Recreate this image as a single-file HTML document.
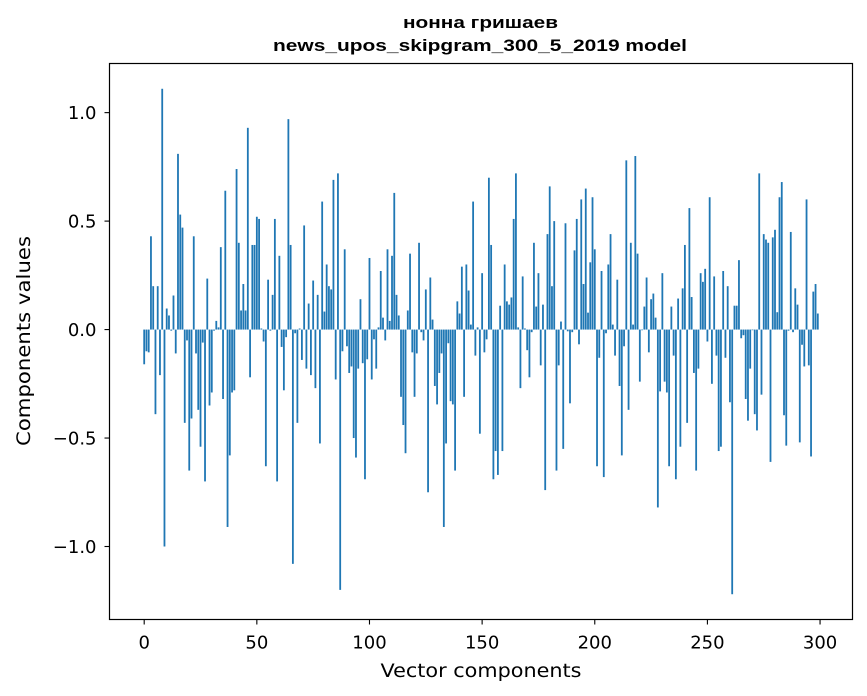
<!DOCTYPE html>
<html><head><meta charset="utf-8"><style>
html,body{margin:0;padding:0;background:#fff;}
svg{display:block;font-family:"DejaVu Sans","Liberation Sans",sans-serif;}
</style></head><body>
<svg id="chart" width="867" height="696" viewBox="0 0 867 696">
<text x="480.5" y="28" text-anchor="middle" font-size="17" font-weight="bold" font-family="Liberation Sans, sans-serif" textLength="155" lengthAdjust="spacingAndGlyphs">нонна гришаев</text>
<text x="480" y="51" text-anchor="middle" font-size="17" font-weight="bold" font-family="Liberation Sans, sans-serif" textLength="414" lengthAdjust="spacingAndGlyphs">news_upos_skipgram_300_5_2019 model</text>
<g id="bars"></g>
<g id="yticks"></g>
<g id="xticks"></g>
<rect x="109.5" y="63.5" width="743" height="556" fill="none" stroke="#000" stroke-width="1.2"/>
<text x="481" y="677" text-anchor="middle" font-size="19" textLength="201" lengthAdjust="spacingAndGlyphs">Vector components</text>
<text transform="translate(30,341) rotate(-90)" text-anchor="middle" font-size="19" textLength="210" lengthAdjust="spacingAndGlyphs">Components values</text>
</svg>
<script>
const values = [
-0.16,-0.10,-0.105,0.43,0.20,-0.39,0.20,-0.21,1.11,-1.0,
0.097,0.065,-0.005,0.157,-0.11,0.81,0.53,0.47,-0.43,-0.05,
-0.65,-0.41,0.43,-0.11,-0.37,-0.54,-0.06,-0.70,0.235,-0.35,
-0.29,-0.005,0.04,0.01,0.38,-0.32,0.64,-0.91,-0.58,-0.29,
-0.28,0.74,0.40,0.088,0.21,0.088,0.93,-0.22,0.39,0.39,
0.52,0.51,0.005,-0.055,-0.63,0.23,-0.005,0.16,0.51,-0.70,
0.34,-0.08,-0.28,-0.035,0.97,0.39,-1.08,-0.017,-0.43,0.005,
-0.14,0.48,-0.18,0.12,-0.21,0.226,-0.27,0.16,-0.525,0.59,
0.083,0.30,0.20,0.185,0.69,-0.23,0.72,-1.2,-0.10,0.37,
-0.077,-0.20,-0.17,-0.50,-0.59,-0.18,0.14,-0.155,-0.69,-0.137,
0.33,-0.23,-0.045,-0.18,0.01,0.27,0.055,-0.05,0.37,0.04,
0.34,0.63,0.16,0.065,-0.31,-0.44,-0.57,0.088,0.35,-0.105,
-0.31,-0.11,0.40,-0.012,-0.05,0.185,-0.75,0.24,0.046,-0.26,
-0.345,-0.20,-0.11,-0.91,-0.525,-0.063,-0.33,-0.345,-0.65,0.13,
0.074,0.29,-0.31,0.30,0.18,0.023,0.59,-0.12,0.01,-0.48,
0.26,-0.105,-0.045,0.70,0.39,-0.69,-0.56,-0.67,0.11,-0.56,
0.30,0.13,0.115,0.148,0.51,0.72,0.01,-0.27,0.245,0.005,
-0.095,-0.22,-0.012,0.40,0.106,0.26,-0.165,0.115,-0.74,0.44,
0.66,0.20,0.50,-0.65,-0.165,0.037,-0.55,0.49,-0.008,-0.34,
-0.012,0.365,0.51,-0.068,0.60,0.21,0.65,0.078,0.31,0.61,
0.37,-0.63,-0.13,0.27,-0.68,-0.017,0.30,0.44,0.023,-0.12,
0.23,-0.26,-0.58,-0.077,0.78,-0.37,0.40,0.023,0.80,0.35,
-0.24,-0.003,0.106,0.24,-0.105,0.14,0.166,0.055,-0.82,-0.285,
0.26,-0.24,-0.29,-0.63,0.106,-0.12,-0.69,0.143,-0.54,0.19,
0.39,-0.43,0.56,0.15,-0.20,-0.65,-0.18,0.26,0.22,0.28,
-0.055,0.61,-0.25,0.245,-0.12,-0.56,-0.54,0.27,-0.13,0.20,
-0.335,-1.22,0.11,0.11,0.32,-0.04,-0.026,-0.32,-0.42,-0.18,
-0.003,-0.39,-0.465,0.72,-0.30,0.44,0.415,0.40,-0.61,0.425,
0.46,0.08,0.61,0.68,-0.395,-0.535,-0.005,0.45,-0.012,0.19,
0.115,-0.52,-0.07,-0.17,0.60,-0.165,-0.585,0.175,0.21,0.074
];
const yTickValues = [-1.0,-0.5,0.0,0.5,1.0];
const yTickLabels = ["\u22121.0","\u22120.5","0.0","0.5","1.0"];
const xTickValues = [0,50,100,150,200,250,300];
const xTickLabels = ["0","50","100","150","200","250","300"];

const NS="http://www.w3.org/2000/svg";
const L=109.5,R=852.5,T=63.5,B=619.5;
const xMin=-15.4,xMax=314.4;
const yMin=-1.3365,yMax=1.2265;
const xs=v=>L+(v-xMin)/(xMax-xMin)*(R-L);
const ys=v=>B-(v-yMin)/(yMax-yMin)*(B-T);
function mk(tag,attrs){const e=document.createElementNS(NS,tag);for(const k in attrs)e.setAttribute(k,attrs[k]);return e;}
const gb=document.getElementById('bars');
values.forEach((v,i)=>{
  const x0=xs(i-0.4),x1=xs(i+0.4);
  const y0=ys(Math.max(v,0)),y1=ys(Math.min(v,0));
  const r=mk('rect',{x:x0,y:y0,width:x1-x0,height:Math.max(y1-y0,0.1),fill:'#1f77b4'});
  
  
  gb.appendChild(r);
});
const gy=document.getElementById('yticks');
yTickValues.forEach((v,i)=>{
  const y=ys(v);
  const ln=mk('line',{x1:L-5,x2:L,y1:y,y2:y,stroke:'#000','stroke-width':1.1});
  
  
  gy.appendChild(ln);
  const t=mk('text',{x:L-13,y:y+6.5,'text-anchor':'end','font-size':18});
  t.textContent=yTickLabels[i];
  
  
  gy.appendChild(t);
});
const gx=document.getElementById('xticks');
xTickValues.forEach((v,i)=>{
  const x=xs(v);
  const ln=mk('line',{x1:x,x2:x,y1:B,y2:B+5,stroke:'#000','stroke-width':1.1});
  
  
  gx.appendChild(ln);
  const t=mk('text',{x:x,y:B+29,'text-anchor':'middle','font-size':18});
  t.textContent=xTickLabels[i];
  
  
  gx.appendChild(t);
});
</script>
</body></html>
